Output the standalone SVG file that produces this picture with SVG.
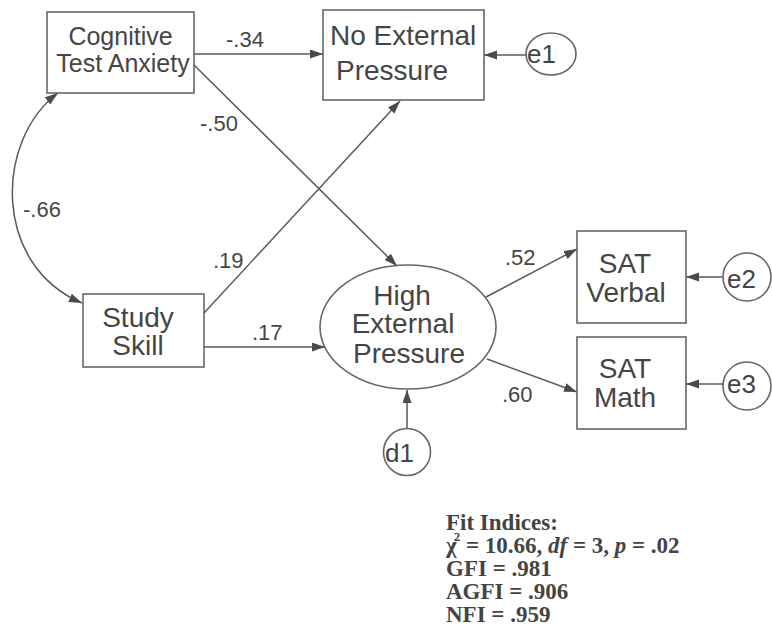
<svg xmlns="http://www.w3.org/2000/svg" width="772" height="628" viewBox="0 0 772 628">
<style>
.box{fill:none;stroke:#666;stroke-width:1.6}
.lbl{font-family:"Liberation Sans",Arial,sans-serif;fill:#454545}
.n28{font-size:28px}
.n25{font-size:25px}
.e{font-size:26px}
.w{font-size:22px}
.edge{fill:none;stroke:#5a5a5a;stroke-width:1.5}
.fit{font-family:"Liberation Serif","Times New Roman",serif;font-weight:bold;font-size:23px;fill:#444}
</style>
<defs>
<marker id="ah" markerUnits="userSpaceOnUse" markerWidth="14" markerHeight="10" refX="13" refY="4.5" orient="auto">
<path d="M0,0 L13,4.5 L0,9 z" fill="#4a4a4a"/>
</marker>
<marker id="ahs" markerUnits="userSpaceOnUse" markerWidth="14" markerHeight="10" refX="0" refY="4.5" orient="auto">
<path d="M13,0 L0,4.5 L13,9 z" fill="#4a4a4a"/>
</marker>
</defs>
<rect width="772" height="628" fill="#fff"/>

<g id="connectors">
<line class="edge" x1="194" y1="54" x2="323" y2="54" marker-end="url(#ah)"/>
<line class="edge" x1="194" y1="65" x2="397" y2="266" marker-end="url(#ah)"/>
<line class="edge" x1="204" y1="313" x2="400" y2="101" marker-end="url(#ah)"/>
<line class="edge" x1="204" y1="347" x2="325" y2="347" marker-end="url(#ah)"/>
<line class="edge" x1="526" y1="55" x2="484" y2="55" marker-end="url(#ah)"/>
<line class="edge" x1="486" y1="297" x2="577" y2="249" marker-end="url(#ah)"/>
<line class="edge" x1="487" y1="359" x2="577" y2="392" marker-end="url(#ah)"/>
<line class="edge" x1="723" y1="277" x2="686" y2="277" marker-end="url(#ah)"/>
<line class="edge" x1="723" y1="384" x2="686" y2="384" marker-end="url(#ah)"/>
<line class="edge" x1="407" y1="428" x2="407" y2="390" marker-end="url(#ah)"/>
<path class="edge" d="M58 93 C -5 140, -8 265, 82 303" marker-start="url(#ahs)" marker-end="url(#ah)"/>
<text class="lbl w" x="226" y="47">-.34</text>
<text class="lbl w" x="200" y="131">-.50</text>
<text class="lbl w" x="23" y="217">-.66</text>
<text class="lbl w" x="213" y="268">.19</text>
<text class="lbl w" x="252" y="340">.17</text>
<text class="lbl w" x="505" y="265">.52</text>
<text class="lbl w" x="502" y="402">.60</text>
</g>

<g id="cognitive">
<rect class="box" x="47" y="12" width="147" height="81"/>
<text class="lbl n25" x="120.5" y="45" text-anchor="middle">Cognitive</text>
<text class="lbl n25" x="123" y="72" text-anchor="middle">Test Anxiety</text>
</g>

<g id="noext">
<rect class="box" x="323" y="10" width="161" height="90"/>
<text class="lbl n28" x="330" y="45">No External</text>
<text class="lbl n28" x="336" y="80">Pressure</text>
</g>

<g id="e1">
<ellipse class="box" cx="551" cy="54" rx="25" ry="21"/>
<text class="lbl e" x="527" y="63">e1</text>
</g>

<g id="study">
<rect class="box" x="83" y="294" width="121" height="73"/>
<text class="lbl n28" x="138" y="327" text-anchor="middle">Study</text>
<text class="lbl n28" x="138" y="355" text-anchor="middle">Skill</text>
</g>

<g id="hep">
<ellipse class="box" cx="408" cy="327" rx="88" ry="62"/>
<text class="lbl n28" x="402" y="305" text-anchor="middle">High</text>
<text class="lbl n28" x="403" y="333" text-anchor="middle">External</text>
<text class="lbl n28" x="409" y="363" text-anchor="middle">Pressure</text>
</g>

<g id="satv">
<rect class="box" x="577" y="231" width="109" height="92"/>
<text class="lbl n28" x="625" y="273" text-anchor="middle">SAT</text>
<text class="lbl n28" x="626" y="302" text-anchor="middle">Verbal</text>
</g>

<g id="satm">
<rect class="box" x="577" y="337" width="109" height="92"/>
<text class="lbl n28" x="625" y="378" text-anchor="middle">SAT</text>
<text class="lbl n28" x="625" y="407" text-anchor="middle">Math</text>
</g>

<g id="e2">
<circle class="box" cx="747" cy="277" r="24"/>
<text class="lbl e" x="727" y="288">e2</text>
</g>

<g id="e3">
<circle class="box" cx="747" cy="386" r="24"/>
<text class="lbl e" x="727" y="393">e3</text>
</g>

<g id="d1">
<circle class="box" cx="407" cy="452" r="23.5"/>
<text class="lbl e" x="385" y="462">d1</text>
</g>

<g id="fit">
<text class="fit" x="446" y="530">Fit Indices:</text>
<text class="fit" x="446" y="553">χ<tspan font-size="13" dx="-3" dy="-12">2</tspan><tspan dy="12"> = 10.66, </tspan><tspan font-style="italic">df</tspan> = 3, <tspan font-style="italic">p</tspan> = .02</text>
<text class="fit" x="446" y="576">GFI = .981</text>
<text class="fit" x="446" y="599">AGFI = .906</text>
<text class="fit" x="446" y="622">NFI = .959</text>
</g>
</svg>
